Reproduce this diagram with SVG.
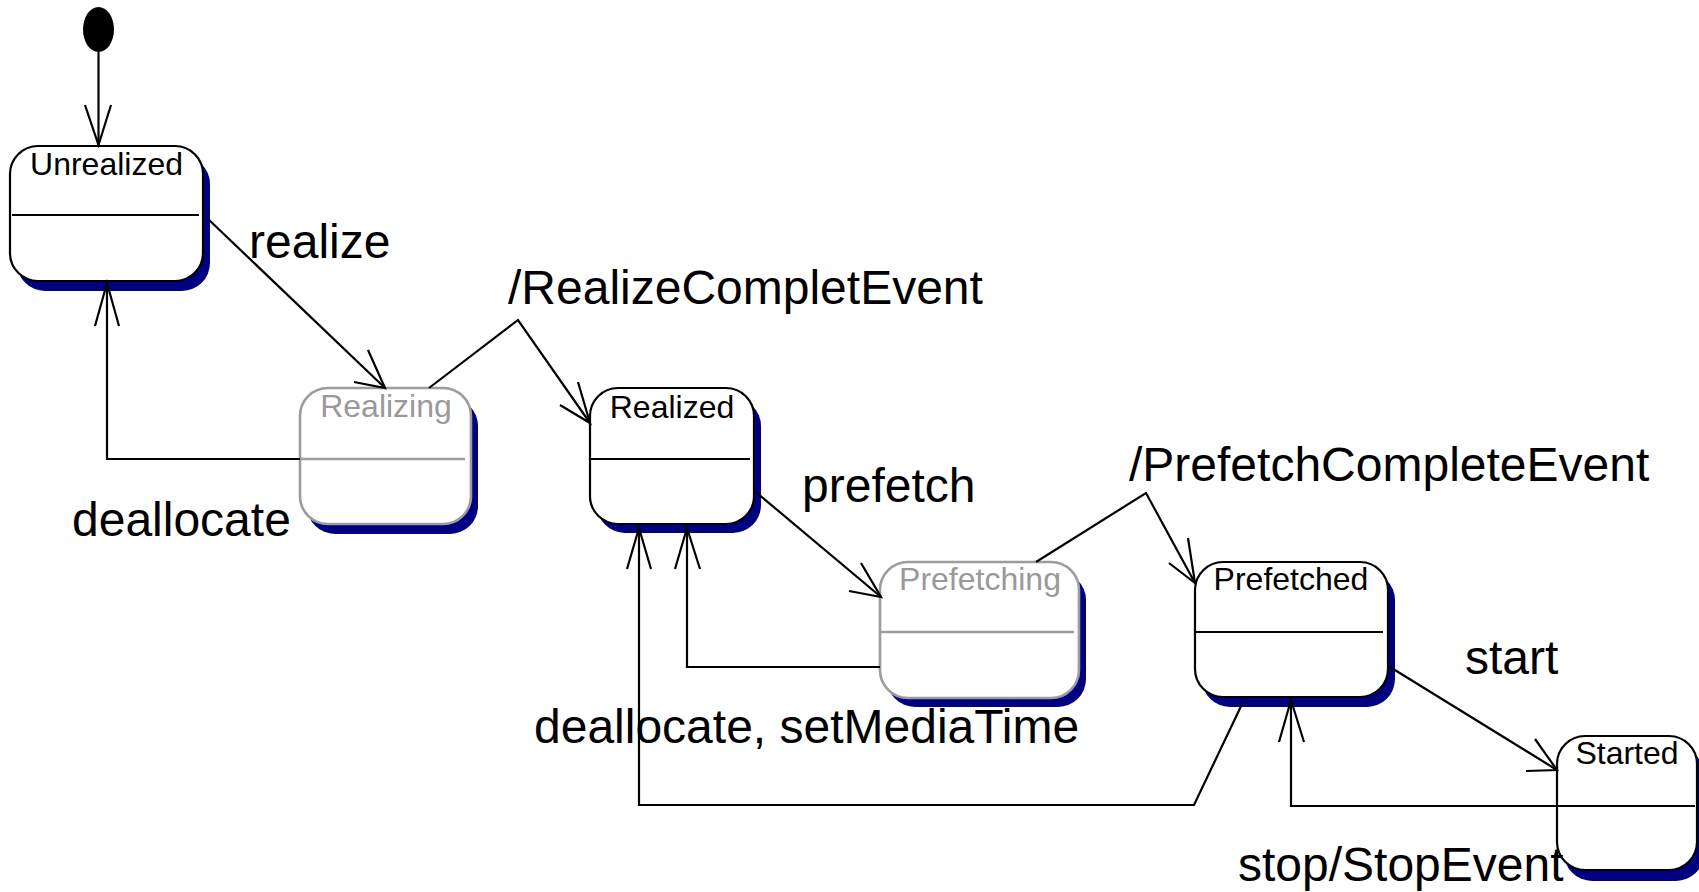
<svg xmlns="http://www.w3.org/2000/svg" width="1699" height="892" viewBox="0 0 1699 892">
<style>
.bg{fill:#ffffff}
.shadow{fill:#000080;stroke:none}
.box{fill:#ffffff;stroke:#000000;stroke-width:2.2}
.boxg{fill:#ffffff;stroke:#9c9c9c;stroke-width:2.6}
.div{stroke:#000000;stroke-width:2.2;fill:none}
.divg{stroke:#9c9c9c;stroke-width:2.6;fill:none}
.name{font-family:"Liberation Sans",Arial,sans-serif;font-size:32px;fill:#000000;text-anchor:middle}
.nameg{font-family:"Liberation Sans",Arial,sans-serif;font-size:32px;fill:#999999;text-anchor:middle}
.lbl{font-family:"Liberation Sans",Arial,sans-serif;font-size:48px;fill:#000000}
.ln{fill:none;stroke:#000000;stroke-width:2.2;stroke-linejoin:miter}
</style>
<rect class="bg" x="0" y="0" width="1699" height="892"/>

<g id="initial">
<ellipse cx="98.5" cy="29.5" rx="15.5" ry="22.5" fill="#000000"/>
</g>

<g id="Unrealized">
<rect class="shadow" x="17" y="156" width="193" height="135" rx="28" ry="28"/>
<rect class="box" x="10" y="146" width="193" height="135" rx="28" ry="28"/>
<line class="div" x1="12" y1="215" x2="199" y2="215"/>
<text class="name" x="106.5" y="175">Unrealized</text>
</g>

<g id="Realizing">
<rect class="shadow" x="307" y="398" width="171" height="136" rx="28" ry="28"/>
<rect class="boxg" x="300" y="388" width="171" height="136" rx="28" ry="28"/>
<line class="divg" x1="300" y1="459" x2="465" y2="459"/>
<text class="nameg" x="386" y="417">Realizing</text>
</g>

<g id="Realized">
<rect class="shadow" x="597" y="398" width="164" height="135" rx="28" ry="28"/>
<rect class="box" x="590" y="388" width="164" height="136" rx="28" ry="28"/>
<line class="div" x1="590" y1="459" x2="750" y2="459"/>
<text class="name" x="672" y="418">Realized</text>
</g>

<g id="Prefetching">
<rect class="shadow" x="887" y="572" width="199" height="135" rx="28" ry="28"/>
<rect class="boxg" x="880" y="562" width="199" height="136" rx="28" ry="28"/>
<line class="divg" x1="880" y1="632" x2="1074" y2="632"/>
<text class="nameg" x="980" y="590">Prefetching</text>
</g>

<g id="Prefetched">
<rect class="shadow" x="1202" y="572" width="193" height="135" rx="28" ry="28"/>
<rect class="box" x="1195" y="562" width="193" height="135" rx="28" ry="28"/>
<line class="div" x1="1196" y1="632" x2="1383" y2="632"/>
<text class="name" x="1291" y="590">Prefetched</text>
</g>

<g id="Started">
<rect class="shadow" x="1564" y="747" width="140" height="134" rx="28" ry="28"/>
<rect class="box" x="1557" y="736" width="140" height="134" rx="28" ry="28"/>
<line class="div" x1="1557" y1="806" x2="1695" y2="806"/>
<text class="name" x="1627" y="764">Started</text>
</g>

<g id="connectors">
<!-- initial -> Unrealized -->
<polyline class="ln" points="98.5,52 98.5,145"/>
<polyline class="ln" points="85,105 98.5,145 111,105"/>
<!-- realize -->
<polyline class="ln" points="207,218 385,388"/>
<polyline class="ln" points="368,350 385,388 354,382"/>
<!-- Realizing -> Realized -->
<polyline class="ln" points="429,388 518,320 590,423"/>
<polyline class="ln" points="578,382 590,423 560,405"/>
<!-- Realizing -> Unrealized (deallocate) -->
<polyline class="ln" points="300,459 107,459 107,283"/>
<polyline class="ln" points="95,326 107,283 119,326"/>
<!-- prefetch -->
<polyline class="ln" points="757,493 881,597"/>
<polyline class="ln" points="861,563 881,597 849,591"/>
<!-- Prefetching -> Prefetched -->
<polyline class="ln" points="1036,562 1146,493 1195,583"/>
<polyline class="ln" points="1188,538 1195,583 1169,563"/>
<!-- Prefetching -> Realized -->
<polyline class="ln" points="880,667 687,667 687,528"/>
<polyline class="ln" points="675,569 687,528 700,569"/>
<!-- Prefetched -> Realized -->
<polyline class="ln" points="1243,702 1194,805 639,805 639,528"/>
<polyline class="ln" points="627,569 639,528 651,569"/>
<!-- start -->
<polyline class="ln" points="1390,667 1557,770"/>
<polyline class="ln" points="1535,739 1557,770 1526,771"/>
<!-- Started -> Prefetched -->
<polyline class="ln" points="1557,806 1291,806 1291,700"/>
<polyline class="ln" points="1279,742 1291,700 1304,742"/>
</g>

<g id="labels">
<text class="lbl" x="249" y="258">realize</text>
<text class="lbl" x="508" y="304">/RealizeCompletEvent</text>
<text class="lbl" x="72" y="536">deallocate</text>
<text class="lbl" x="802" y="502">prefetch</text>
<text class="lbl" x="1129" y="481">/PrefetchCompleteEvent</text>
<text class="lbl" x="534" y="743">deallocate, setMediaTime</text>
<text class="lbl" x="1465" y="674">start</text>
<text class="lbl" x="1238" y="881">stop/StopEvent</text>
</g>
</svg>
